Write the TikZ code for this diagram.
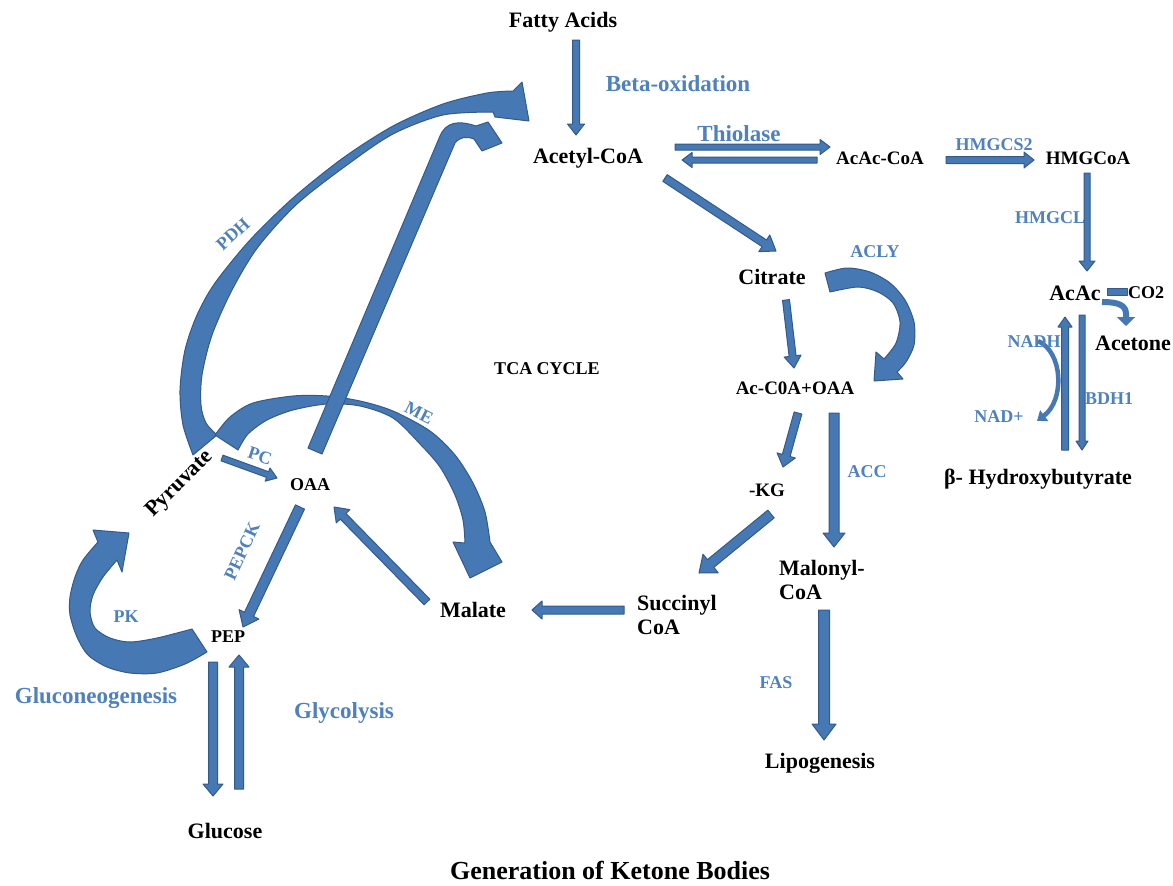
\documentclass[tikz,border=0pt]{standalone}
\usepackage{fontspec}
\setmainfont{Liberation Serif}
\usetikzlibrary{calc,arrows.meta}
\definecolor{blkfill}{RGB}{70,120,180}
\definecolor{blkdraw}{RGB}{52,90,138}
\definecolor{lblue}{RGB}{79,129,189}
% block arrow: #1 from, #2 to, #3 half shaft, #4 half head, #5 head length
\newcommand\blockarr[5]{%
  \path ($(#2)!#5!(#1)$) coordinate (bkb);
  \filldraw[blk] ($(#1)!#3!90:(#2)$) -- ($(bkb)!#3!90:(#2)$) -- ($(bkb)!#4!90:(#2)$) -- (#2)
    -- ($(bkb)!#4!-90:(#2)$) -- ($(bkb)!#3!-90:(#2)$) -- ($(#1)!#3!-90:(#2)$) -- cycle;
}
\tikzset{
  blk/.style={fill=blkfill, draw=blkdraw, line width=1pt, line join=round},
  met/.style={font=\bfseries\fontsize{22}{24}\selectfont, inner sep=0pt, text=black},
  mets/.style={font=\bfseries\fontsize{19}{22}\selectfont, inner sep=0pt, text=black},
  metxs/.style={font=\bfseries\fontsize{18}{20}\selectfont, inner sep=0pt, text=black},
  enz/.style={font=\bfseries\fontsize{18}{20}\selectfont, inner sep=0pt, text=lblue},
  enzl/.style={font=\bfseries\fontsize{23}{25}\selectfont, inner sep=0pt, text=lblue},
  thinarr/.style={draw=blkfill, line width=4.5pt, -{Triangle[width=13pt,length=9pt]}},
}
\begin{document}
\begin{tikzpicture}[x=1pt,y=-1pt]
\useasboundingbox (0,0) rectangle (1173,886);
\fill[white] (0,0) rectangle (1173,886);

% ---------- arrow end points ----------
\coordinate (fa1) at (576,40);   \coordinate (fa2) at (576,135);
\coordinate (th1) at (675,147);  \coordinate (th2) at (830,147);
\coordinate (th3) at (817,160);  \coordinate (th4) at (682,160);
\coordinate (hs1) at (946,160);  \coordinate (hs2) at (1034,160);
\coordinate (hl1) at (1087,173); \coordinate (hl2) at (1087,271);
\coordinate (ac1) at (665,178);  \coordinate (ac2) at (776,251);
\coordinate (ci1) at (786,300);  \coordinate (ci2) at (794,368);
\coordinate (kg1) at (798,413);  \coordinate (kg2) at (783,467);
\coordinate (cc1) at (834,413);  \coordinate (cc2) at (834,547);
\coordinate (su1) at (771,514);  \coordinate (su2) at (699,573);
\coordinate (ma1) at (624,610);  \coordinate (ma2) at (532,610);
\coordinate (fs1) at (824,610);  \coordinate (fs2) at (824,740);
\coordinate (bu1) at (1065,450); \coordinate (bu2) at (1065,317);
\coordinate (bd1) at (1082,315); \coordinate (bd2) at (1082,450);
\coordinate (pc1) at (222,458);  \coordinate (pc2) at (277,478);
\coordinate (pp1) at (300,507);  \coordinate (pp2) at (243,627);
\coordinate (mo1) at (427,602);  \coordinate (mo2) at (334,507);
\coordinate (gd1) at (213,662);  \coordinate (gd2) at (213,796);
\coordinate (gu1) at (239,789);  \coordinate (gu2) at (239,655);
\coordinate (nd1) at (1038,341); \coordinate (nd2) at (1037,421);
\coordinate (ce1) at (1102,302); \coordinate (ce2) at (1126,326);

% ---------- big curved arrows ----------
% PDH
\filldraw[blk] plot[smooth] coordinates {(193,455) (183,425) (180,390) (185,350) (197,315) (215,283) (250,240) (293,198) (343,158) (393,126) (443,104) (487,93) (513,91)}
  -- (522,82) -- (529,121) -- (495,117)
  -- plot[smooth] coordinates {(493,112) (443,115) (393,134) (347,165) (297,204) (258,247) (232,290) (212,335) (202,375) (201,405) (206,423) (217,435)} -- cycle;
% ME
\filldraw[blk] plot[smooth] coordinates {(215,435) (230,417) (253,403) (293,396) (327,396) (360,401) (393,411) (430,431) (455,455) (473,483) (485,512) (490,542)}
  -- (502,562) -- (470,578) -- (453,542)
  -- plot[smooth] coordinates {(465,543) (463,520) (455,495) (440,467) (420,444) (393,418) (360,406) (327,404) (293,410) (267,420) (248,434) (238,450)} -- cycle;
% OAA -> Acetyl-CoA (bent)
\filldraw[blk] (308,448) -- (440,136) .. controls (446,122) and (458,120) .. (476,126) -- (488,122) -- (502,143) -- (482,151) -- (474,139) .. controls (466,136) and (460,137) .. (455,143) -- (322,454) -- cycle;
% PK
\filldraw[blk] plot[smooth] coordinates {(207,652) (185,664) (157,673) (130,673) (107,667) (88,655) (77,637) (70,615) (70,597) (75,577) (83,560) (98,542)}
  -- (93,530) -- (129,533) -- (122,572)
  -- plot[smooth] coordinates {(117,560) (103,577) (93,595) (90,612) (95,628) (110,638) (130,642) (157,638) (192,629)} -- cycle;
% ACLY
\filldraw[blk] plot[smooth] coordinates {(825,273) (847,268) (870,272) (890,283) (905,300) (914,322) (914,345) (906,362) (897,372)}
  -- (903,379) -- (874,381) -- (876,352)
  -- plot[smooth] coordinates {(884,359) (896,343) (900,322) (893,303) (878,292) (858,287) (830,292)} -- cycle;

% ---------- straight block arrows ----------
\blockarr{fa1}{fa2}{3.5pt}{8.5pt}{11pt}
\blockarr{th1}{th2}{3pt}{7.5pt}{10pt}
\blockarr{th3}{th4}{3pt}{7.5pt}{10pt}
\blockarr{hs1}{hs2}{3.5pt}{8pt}{10pt}
\blockarr{hl1}{hl2}{3pt}{8pt}{10pt}
\blockarr{ac1}{ac2}{4pt}{10pt}{14pt}
\blockarr{ci1}{ci2}{3.5pt}{8.5pt}{12pt}
\blockarr{kg1}{kg2}{4pt}{9.5pt}{12pt}
\blockarr{cc1}{cc2}{5pt}{11pt}{14pt}
\blockarr{su1}{su2}{5pt}{12pt}{15pt}
\blockarr{ma1}{ma2}{4pt}{9pt}{10pt}
\blockarr{fs1}{fs2}{5.5pt}{12pt}{16pt}
\blockarr{bu1}{bu2}{3.5pt}{7pt}{10pt}
\blockarr{bd1}{bd2}{3pt}{6pt}{9pt}
\blockarr{pc1}{pc2}{3pt}{7pt}{10pt}
\blockarr{pp1}{pp2}{5pt}{11pt}{14pt}
\blockarr{mo1}{mo2}{4pt}{9.5pt}{13pt}
\blockarr{gd1}{gd2}{4.5pt}{10pt}{12pt}
\blockarr{gu1}{gu2}{4.5pt}{10pt}{12pt}

% NADH -> NAD+
\draw[thinarr] (nd1) .. controls (1063,352) and (1065,400) .. (nd2);
% AcAc -> Acetone (+CO2)
\filldraw[blk] (1107,288) rectangle (1127,295);
\draw[draw=blkfill, line width=6pt, -{Triangle[width=18pt,length=9pt]}] (ce1) .. controls (1118,302) and (1126,305) .. (1126,314) -- (ce2);

% ---------- metabolites ----------
\node[met]  (fatty)   at (563,22)  {Fatty Acids};
\node[met]  (acetyl)  at (588,158) {Acetyl-CoA};
\node[mets] (acaccoa) at (880,158) {AcAc-CoA};
\node[mets] (hmgcoa)  at (1088,158) {HMGCoA};
\node[met]  (citrate) at (772,277) {Citrate};
\node[met]  (acac)    at (1075,293) {AcAc};
\node[metxs](co2)     at (1146,293) {CO2};
\node[met]  (acetone) at (1133,343) {Acetone};
\node[met]  (bhb)     at (1038,479) {β- Hydroxybutyrate};
\node[mets] (acoaa)   at (795,388) {Ac-C0A+OAA};
\node[mets] (kg)      at (767,490) {-KG};
\node[met, anchor=west, align=left] (malonyl) at (779,580) {Malonyl-\\CoA};
\node[met, anchor=west, align=left] (succ)    at (637,615) {Succinyl\\CoA};
\node[met]  (malate)  at (473,610) {Malate};
\node[met]  (lipo)    at (820,763) {Lipogenesis};
\node[metxs](tca)     at (547,369) {TCA CYCLE};
\node[metxs](oaa)     at (310,485) {OAA};
\node[metxs](pep)     at (228,637) {PEP};
\node[met]  (glucose) at (225,831) {Glucose};
\node[met, rotate=45] (pyruvate) at (180,484) {Pyruvate};

% ---------- enzymes / labels ----------
\node[enzl] (betaox) at (678,84)  {Beta-oxidation};
\node[enzl] (thiol)  at (739,134) {Thiolase};
\node[enz]  (hmgcs)  at (994,145) {HMGCS2};
\node[enz]  (hmgcl)  at (1050,218) {HMGCL};
\node[enz]  (acly)   at (875,252) {ACLY};
\node[enz]  (nadh)   at (1034,342) {NADH};
\node[enz]  (nadp)   at (999,417) {NAD+};
\node[enz]  (bdh)    at (1109,399) {BDH1};
\node[enz]  (acc)    at (867,472) {ACC};
\node[enz]  (fas)    at (776,683) {FAS};
\node[enz]  (pk)     at (126,617) {PK};
\node[enz, rotate=65]  (pepck) at (242,551) {PEPCK};
\node[enz, rotate=42]  (pdh)   at (233,234) {PDH};
\node[enz, rotate=-27] (me)    at (419,413) {ME};
\node[enz, rotate=-18] (pc)    at (260,456) {PC};
\node[enzl] (gluconeo) at (96,698)  {Gluconeogenesis};
\node[enzl] (glycol)   at (344,713) {Glycolysis};

\node[font=\bfseries\fontsize{26}{28}\selectfont, inner sep=0pt, anchor=base] (title) at (610,879) {Generation of Ketone Bodies};
\end{tikzpicture}
\end{document}
